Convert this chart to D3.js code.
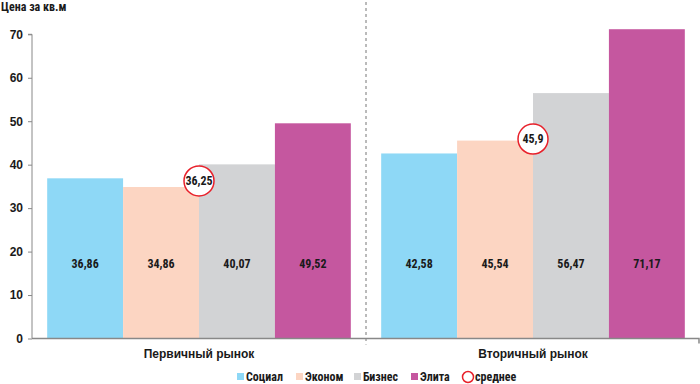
<!DOCTYPE html>
<html>
<head>
<meta charset="utf-8">
<script src="https://cdn.jsdelivr.net/npm/d3@7"></script>
<style>
  body { margin: 0; background: #fff; }
  svg { display: block; font-family: "Liberation Sans Narrow", "Arial Narrow", "Roboto Condensed", sans-serif; }
</style>
</head>
<body>
<svg id="chart" width="700" height="384"></svg>
<script>
const markets = ["Первичный рынок", "Вторичный рынок"];
const segments = ["Социал", "Эконом", "Бизнес", "Элита"];
const segmentColors = ["#8ED8F6", "#FCD5C2", "#D2D3D5", "#C5579F"];
const primaryValues = [36.86, 34.86, 40.07, 49.52];
const secondaryValues = [42.58, 45.54, 56.47, 71.17];
const averages = [36.25, 45.9];
const yTicks = [0, 10, 20, 30, 40, 50, 60, 70];

const fmt = v => String(v).replace(".", ",");

const svg = d3.select("#chart");
const margin = { left: 32, right: 0, top: 34, bottom: 45 };
const width = 700, height = 384;

// plot area
const x = d3.scaleBand().domain(markets).range([margin.left, width - margin.right]).paddingInner(0).paddingOuter(0);
const xInner = d3.scaleBand().domain(segments).range([0, x.bandwidth()]).paddingOuter(0.2).paddingInner(0);
const y = d3.scaleLinear().domain([0, 70]).range([338.5, 34.3]);

const rows = [primaryValues, secondaryValues];

// bars, group by market
const groups = svg.append("g").attr("class", "bars")
  .selectAll("g")
  .data(markets)
  .enter()
  .append("g")
  .attr("transform", d => `translate(${x(d)},0)`);

groups.each(function (m, i) {
  const g = d3.select(this);
  const data = segments.map((s, j) => ({ s, v: rows[i][j], c: segmentColors[j] }));
  g.selectAll("rect")
    .data(data)
    .enter()
    .append("rect")
    .attr("x", d => xInner(d.s))
    .attr("width", xInner.bandwidth())
    .attr("y", d => y(d.v))
    .attr("height", d => y(0) - y(d.v))
    .attr("fill", d => d.c);

  //value labels sit at one height inside the bars
  g.selectAll("text")
    .data(data)
    .enter()
    .append("text")
    .attr("x", d => xInner(d.s) + xInner.bandwidth() / 2)
    .attr("y", y(0) - 71)
    .attr("text-anchor", "middle")
    .attr("font-size", 12)
    .attr("font-weight", "bold")
    .attr("fill", "#1a1a1a")
    .text(d => fmt(d.v));
});

// divider between markets
svg.append("line")
  .attr("x1", x(markets[1])).attr("x2", x(markets[1]))
  .attr("y1", 2).attr("y2", y(0) + 6)
  .attr("stroke", "#777").attr("stroke-width", 1)
  .attr("stroke-dasharray", "3,3");

// y axis
const yAxis = svg.append("g")
  .attr("transform", `translate(${margin.left},0)`)
  .call(d3.axisLeft(y).tickValues(yTicks).tickSize(4).tickPadding(5).tickFormat(d3.format("d")));
yAxis.select(".domain").attr("stroke", "#888").attr("d", `M-4,${y(70)}H0V${y(0)}`);
yAxis.selectAll(".tick line").attr("stroke", "#888");
yAxis.selectAll(".tick text")
  .attr("font-size", 12).attr("font-weight", "bold").attr("fill", "#1a1a1a")
  .attr("font-family", null);

// x axis
const xAxis = svg.append("g")
  .attr("transform", `translate(0,${y(0)})`)
  .call(d3.axisBottom(x).tickSize(0).tickPadding(11));
xAxis.select(".domain").attr("stroke", "#888").attr("stroke-width", 1.5)
  .attr("d", `M${margin.left},0H${width - 1}V5`);
xAxis.selectAll(".tick text")
  .attr("font-size", 12).attr("font-weight", "bold").attr("fill", "#1a1a1a")
  .attr("font-family", null);

// average markers, placed between Эконом and Бизнес
averages.forEach((a, i) => {
  const cx = x(markets[i]) + xInner("Бизнес");
  const g = svg.append("g").attr("transform", `translate(${cx},${y(a)})`);
  g.append("circle").attr("r", 15).attr("fill", "#fff").attr("stroke", "#E8202A").attr("stroke-width", 1.5);
  g.append("text")
    .attr("text-anchor", "middle").attr("dy", "0.35em")
    .attr("font-size", 12).attr("font-weight", "bold").attr("fill", "#1a1a1a")
    .text(fmt(a));
});

// title
svg.append("text")
  .attr("x", 1).attr("y", 11)
  .attr("font-size", 12).attr("font-weight", "bold").attr("fill", "#1a1a1a")
  .text("Цена за кв.м");

// legend
const legendItems = segments.map((s, i) => ({ label: s, color: segmentColors[i], type: "rect" }))
  .concat([{ label: "среднее", color: "#E8202A", type: "circle" }]);
const legendX = [237, 296, 354, 411, 464];
const legend = svg.append("g").attr("class", "legend")
  .selectAll("g")
  .data(legendItems)
  .enter()
  .append("g")
  .attr("transform", (d, i) => `translate(${legendX[i]},377)`);

legend.each(function (d) {
  const g = d3.select(this);
  if (d.type === "rect") {
    g.append("rect").attr("x", 0).attr("y", -4).attr("width", 7).attr("height", 7).attr("fill", d.color);
    g.append("text").attr("x", 9).attr("dy", "0.35em")
      .attr("font-size", 12).attr("font-weight", "bold").attr("fill", "#1a1a1a").text(d.label);
  } else {
    g.append("circle").attr("cx", 4).attr("cy", 0).attr("r", 5.5)
      .attr("fill", "none").attr("stroke", d.color).attr("stroke-width", 1.5);
    g.append("text").attr("x", 11).attr("dy", "0.35em")
      .attr("font-size", 12).attr("font-weight", "bold").attr("fill", "#1a1a1a").text(d.label);
  }
});
</script>
</body>
</html>
